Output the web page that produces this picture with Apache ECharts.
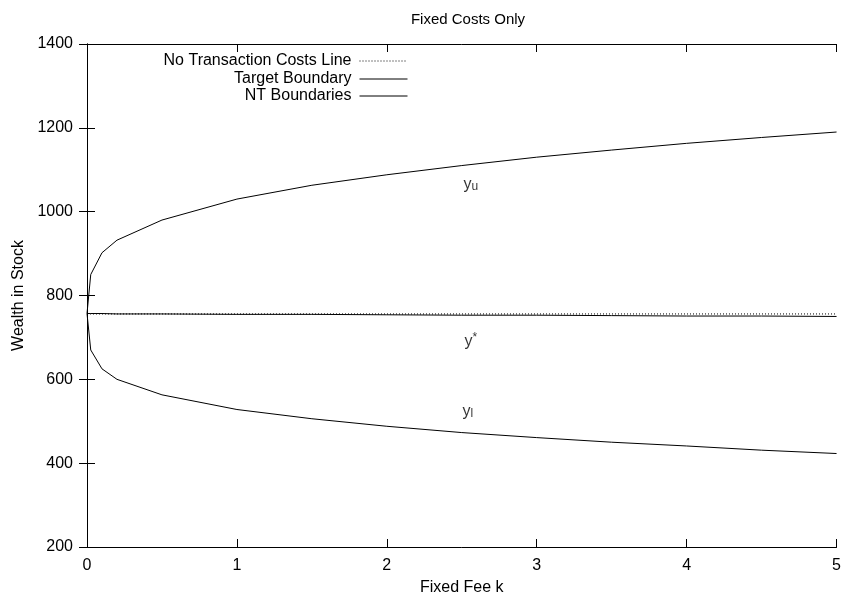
<!DOCTYPE html>
<html><head><meta charset="utf-8">
<script src="https://cdn.jsdelivr.net/npm/echarts@6/dist/echarts.min.js"></script>
<style>html,body{margin:0;padding:0;background:#fff}#c{width:844px;height:601px}</style>
</head><body><div id="c"></div>
<script>
var feeK = [0, 0.025, 0.1, 0.2, 0.5, 1, 1.5, 2, 2.5, 3, 3.5, 4, 4.5, 5];
var upperNT = [757, 850, 902, 932, 980, 1030, 1063, 1088, 1110, 1130, 1147, 1163, 1177, 1190];
var lowerNT = [757, 670, 625, 600, 563, 528, 506, 488, 473, 461, 450, 441, 431, 423];
var target = [757, 757, 757, 756, 756, 755, 755, 754, 753, 753, 752, 751, 751, 750];
var noTC = [756, 756, 756, 756, 756, 756, 756, 756, 756, 756, 756, 756, 756, 756];
var xTicks = [0, 1, 2, 3, 4, 5];
var yTicks = [200, 400, 600, 800, 1000, 1200, 1400];
var annotations = [
  {k: 2.56, v: 1069, main: 'y', sub: 'u', sup: ''},
  {k: 2.56, v: 695, main: 'y', sub: '', sup: '*'},
  {k: 2.54, v: 528, main: 'y', sub: 'l', sup: ''}
];
var FONT = 'Liberation Sans, Arial, Helvetica, sans-serif';
var FS = 16;

function pairs(xs, ys){ return xs.map(function(x,i){return [x, ys[i]];}); }

var chart = echarts.init(document.getElementById('c'), null, {renderer:'canvas'});
var axisCommon = {
  axisLine:{show:true, lineStyle:{color:'#000', width:1}},
  axisTick:{show:true, inside:true, length:8, lineStyle:{color:'#000'}},
  splitLine:{show:false}
};
function legendItem(name, top){
  return {data:[name], right:436, top:top, align:'right', itemWidth:48, itemHeight:14, padding:0,
    itemStyle:{opacity:0}, lineStyle:{width:1},
    textStyle:{fontFamily:FONT, fontSize:FS, color:'#000', padding:[0,3,0,0]}};
}
var option = {
  animation:false,
  backgroundColor:'#fff',
  title:{text:'Fixed Costs Only', left:463, top:7, textAlign:'center',
    textStyle:{fontFamily:FONT, fontSize:15, fontWeight:'normal', color:'#000'}},
  grid:{left:87, right:7, top:44, bottom:53},
  legend:[
    legendItem('No Transaction Costs Line', 53),
    legendItem('Target Boundary', 71),
    legendItem('NT Boundaries', 88)
  ],
  xAxis:[
    Object.assign({type:'value', min:0, max:5, interval:1, position:'bottom',
      name:'Fixed Fee k', nameLocation:'middle', nameGap:33,
      nameTextStyle:{fontFamily:FONT, fontSize:FS, color:'#000'},
      axisLabel:{fontFamily:FONT, fontSize:FS, color:'#000', margin:11,
        formatter:function(v){return xTicks.indexOf(v)>=0 ? String(v) : '';}}}, axisCommon),
    Object.assign({type:'value', min:0, max:5, interval:1, position:'top',
      axisLabel:{show:false}}, axisCommon)
  ],
  yAxis:[
    Object.assign({type:'value', min:200, max:1400, interval:200, position:'left',
      name:'Wealth in Stock', nameLocation:'middle', nameGap:60, nameRotate:90,
      nameTextStyle:{fontFamily:FONT, fontSize:FS, color:'#000'},
      axisLabel:{fontFamily:FONT, fontSize:FS, color:'#000', margin:14,
        formatter:function(v){return yTicks.indexOf(v)>=0 ? String(v) : '';}}}, axisCommon),
    Object.assign({type:'value', min:200, max:1400, interval:200, position:'right',
      axisLabel:{show:false}}, axisCommon)
  ],
  series:[
    {name:'No Transaction Costs Line', type:'line', data:pairs(feeK, noTC), symbol:'none',
      lineStyle:{color:'#000', width:1, type:[1,2]}, itemStyle:{color:'#000'}, z:3},
    {name:'Target Boundary', type:'line', data:pairs(feeK, target), symbol:'none',
      lineStyle:{color:'#000', width:1}, itemStyle:{color:'#000'}},
    {name:'NT Boundaries', type:'line', data:pairs(feeK, upperNT), symbol:'none',
      lineStyle:{color:'#000', width:1}, itemStyle:{color:'#000'}},
    {name:'NT Boundaries', type:'line', data:pairs(feeK, lowerNT), symbol:'none',
      lineStyle:{color:'#000', width:1}, itemStyle:{color:'#000'}},
    {name:'annot', type:'scatter', symbolSize:0, silent:true,
      data:annotations.map(function(a){return {value:[a.k, a.v], a:a};}),
      label:{show:true, position:'inside',
        formatter:function(p){var a=p.data.a; return '{m|'+a.main+'}'+(a.sub?'{s|'+a.sub+'}':'')+(a.sup?'{p|'+a.sup+'}':'');},
        rich:{
          m:{fontFamily:FONT, fontSize:FS, color:'#000', verticalAlign:'bottom', lineHeight:20},
          s:{fontFamily:FONT, fontSize:12, color:'#000', padding:[6,0,0,0], verticalAlign:'bottom', lineHeight:20},
          p:{fontFamily:FONT, fontSize:12, color:'#000', padding:[0,0,6,0], verticalAlign:'bottom', lineHeight:20}
        }}}
  ]
};
chart.setOption(option);
</script></body></html>
